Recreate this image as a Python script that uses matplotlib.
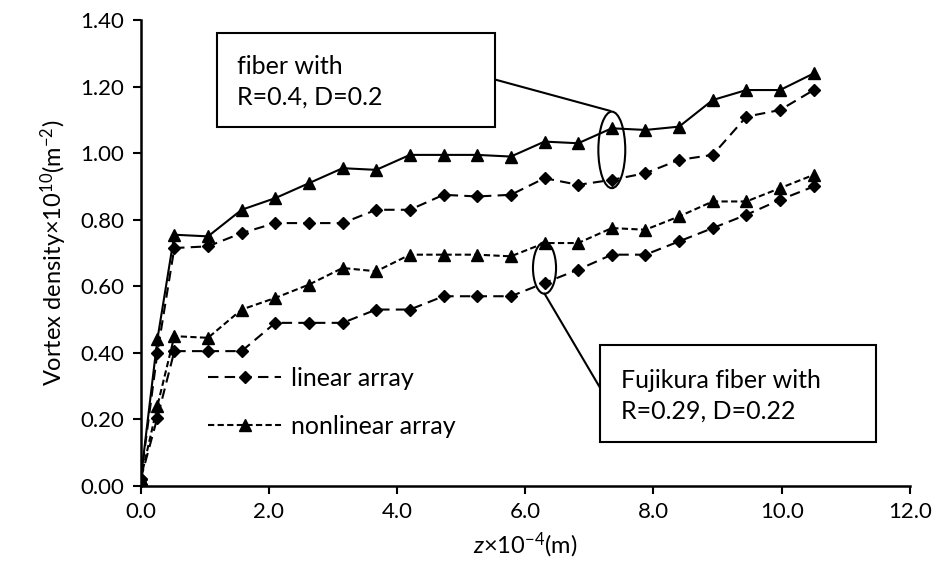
import matplotlib
matplotlib.use('Agg')
import matplotlib.pyplot as plt
from matplotlib.patches import Ellipse, Rectangle

plt.rcParams['font.family'] = ['Lato', 'DejaVu Sans']
plt.rcParams['mathtext.fontset'] = 'custom'
plt.rcParams['mathtext.rm'] = 'Lato'
plt.rcParams['mathtext.it'] = 'Lato:italic'

# z positions (x10^-4 m)
z = [0.0, 0.26, 0.525, 1.05, 1.575, 2.1, 2.625, 3.15, 3.675, 4.2, 4.725,
     5.25, 5.775, 6.3, 6.825, 7.35, 7.875, 8.4, 8.925, 9.45, 9.975, 10.5]

# fiber R=0.4, D=0.2
nonlin_a = [0.02, 0.44, 0.755, 0.75, 0.83, 0.865, 0.91, 0.955, 0.95, 0.995, 0.995,
            0.995, 0.99, 1.035, 1.03, 1.075, 1.07, 1.08, 1.16, 1.19, 1.19, 1.24]
lin_a = [0.02, 0.40, 0.715, 0.72, 0.76, 0.79, 0.79, 0.79, 0.83, 0.83, 0.875,
         0.87, 0.875, 0.925, 0.905, 0.92, 0.94, 0.98, 0.995, 1.11, 1.13, 1.19]

# Fujikura fiber R=0.29, D=0.22
nonlin_b = [0.02, 0.24, 0.45, 0.445, 0.53, 0.565, 0.605, 0.655, 0.645, 0.695, 0.695,
            0.695, 0.69, 0.73, 0.73, 0.775, 0.77, 0.81, 0.855, 0.855, 0.895, 0.935]
lin_b = [0.02, 0.205, 0.405, 0.405, 0.405, 0.49, 0.49, 0.49, 0.53, 0.53, 0.57,
         0.57, 0.57, 0.61, 0.65, 0.695, 0.695, 0.735, 0.775, 0.815, 0.86, 0.90]

xticks = [0, 2, 4, 6, 8, 10, 12]
yticks = [0.0, 0.2, 0.4, 0.6, 0.8, 1.0, 1.2, 1.4]

fig = plt.figure(figsize=(9.38, 5.61), dpi=100)
ax = fig.add_axes([0.150, 0.134, 0.820, 0.830])

lw = 1.5
ax.plot(z, nonlin_a, color='black', lw=lw, marker='^', ms=8.5, zorder=3)
ax.plot(z, lin_a, color='black', lw=lw, ls=(0, (5, 3)), marker='D', ms=6.5, zorder=3,
        label='linear array')
ax.plot(z, nonlin_b, color='black', lw=lw, ls=(0, (3, 1.6)), marker='^', ms=8.5, zorder=3,
        label='nonlinear array')
ax.plot(z, lin_b, color='black', lw=lw, ls=(0, (5, 3)), marker='D', ms=6.5, zorder=3)

ax.set_xlim(0, 12)
ax.set_ylim(0, 1.4)
ax.set_xticks(xticks)
ax.set_xticklabels([f'{v:.1f}' for v in xticks])
ax.set_yticks(yticks)
ax.set_yticklabels([f'{v:.2f}' for v in yticks])
ax.tick_params(labelsize=16, direction='out', length=6, width=1.5, pad=6)
ax.spines[['top', 'right']].set_visible(False)
ax.spines[['left', 'bottom']].set_linewidth(1.8)

ax.set_xlabel(r'$z$×10$^{-4}$(m)', fontsize=17, labelpad=6)
ax.set_ylabel(r'Vortex density×10$^{10}$(m$^{-2}$)', fontsize=17, labelpad=8)

ax.legend(loc='center left', bbox_to_anchor=(0.088, 0.18), frameon=False, fontsize=18,
          handlelength=2.9, labelspacing=1.0, handletextpad=0.4, borderpad=0,
          borderaxespad=0)

# ellipses marking each fiber pair
ax.add_patch(Ellipse((7.35, 1.01), 0.42, 0.23, fill=False, ec='black', lw=1.5, zorder=4))
ax.add_patch(Ellipse((6.3, 0.655), 0.36, 0.155, fill=False, ec='black', lw=1.5, zorder=4))

# callout boxes
ax.add_patch(Rectangle((1.19, 1.078), 4.33, 0.282, fc='white', ec='black', lw=1.5,
                       zorder=5, clip_on=False))
ax.text(1.50, 1.215, 'fiber with\nR=0.4, D=0.2', fontsize=18, ha='left', va='center',
        linespacing=1.4, zorder=6)
ax.annotate('', xy=(7.33, 1.127), xytext=(5.52, 1.222),
            arrowprops=dict(arrowstyle='-', color='black', lw=1.5, shrinkA=0, shrinkB=0))

ax.add_patch(Rectangle((7.16, 0.132), 4.31, 0.291, fc='white', ec='black', lw=1.5,
                       zorder=5, clip_on=False))
ax.text(7.50, 0.272, 'Fujikura fiber with\nR=0.29, D=0.22', fontsize=18, ha='left',
        va='center', linespacing=1.4, zorder=6)
ax.annotate('', xy=(6.3, 0.578), xytext=(7.16, 0.297),
            arrowprops=dict(arrowstyle='-', color='black', lw=1.5, shrinkA=0, shrinkB=0))

fig.savefig('out.png', dpi=100)
